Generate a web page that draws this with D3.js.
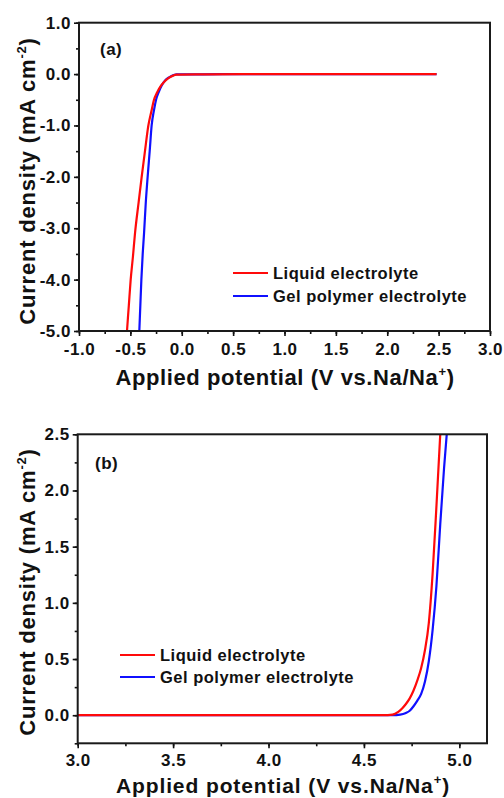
<!DOCTYPE html>
<html>
<head>
<meta charset="utf-8">
<script src="https://cdn.jsdelivr.net/npm/d3@7"></script>
<style>
html,body{margin:0;padding:0;background:#fff;}
svg{display:block;}
text{font-family:"Liberation Sans",Arial,sans-serif;font-weight:bold;fill:#111;}
</style>
</head>
<body>
<svg id="chart" width="504" height="798"></svg>
<script>
// ---- shared legend ----
const seriesNames = ["Liquid electrolyte", "Gel polymer electrolyte"];
const seriesColors = ["#ff0a0a", "#1010ff"];

// ---- Panel (a): cathodic scan ----
const aLiquidX = [-0.533, -0.515, -0.497, -0.475, -0.455, -0.42, -0.39, -0.358, -0.325, -0.295, -0.27, -0.24, -0.21, -0.17, -0.13, -0.09, -0.05, 0.2, 0.6, 1.0, 1.5, 2.0, 2.48];
const aLiquidY = [-5.0, -4.5, -4.0, -3.55, -3.1, -2.5, -2.0, -1.5, -1.0, -0.72, -0.5, -0.36, -0.25, -0.15, -0.08, -0.035, -0.01, -0.005, 0, 0, 0, 0, 0];
const aGelX = [-0.413, -0.403, -0.393, -0.38, -0.367, -0.35, -0.332, -0.312, -0.293, -0.27, -0.25, -0.22, -0.195, -0.16, -0.12, -0.08, -0.05, 0.2, 0.6, 1.0, 1.5, 2.0, 2.48];
const aGelY = [-5.0, -4.5, -4.0, -3.5, -3.1, -2.5, -2.0, -1.5, -1.0, -0.7, -0.5, -0.33, -0.22, -0.12, -0.06, -0.02, -0.005, -0.005, 0, 0, 0, 0, 0];

const aXTicks = [-1.0, -0.5, 0.0, 0.5, 1.0, 1.5, 2.0, 2.5, 3.0];
const aYTicks = [1.0, 0.0, -1.0, -2.0, -3.0, -4.0, -5.0];

// ---- Panel (b): anodic scan ----
const bLiquidX = [3.0, 3.5, 4.0, 4.5, 4.60, 4.65, 4.68, 4.70, 4.72, 4.74, 4.76, 4.78, 4.80, 4.82, 4.84, 4.86, 4.88, 4.90];
const bLiquidY = [0, 0, 0, 0, 0.0, 0.005, 0.03, 0.06, 0.10, 0.15, 0.22, 0.31, 0.42, 0.58, 0.82, 1.26, 1.86, 2.5];
const bGelX = [3.0, 3.5, 4.0, 4.5, 4.65, 4.69, 4.72, 4.74, 4.76, 4.78, 4.80, 4.82, 4.84, 4.86, 4.88, 4.90, 4.92, 4.934];
const bGelY = [0, 0, 0, 0, 0.0, 0.005, 0.02, 0.04, 0.08, 0.13, 0.19, 0.30, 0.48, 0.76, 1.15, 1.7, 2.2, 2.5];

const bXTicks = [3.0, 3.5, 4.0, 4.5, 5.0];
const bYTicks = [0.0, 0.5, 1.0, 1.5, 2.0, 2.5];

const svg = d3.select("#chart");
const fmt1 = d3.format(".1f");
const fmt = d => fmt1(d).replace("\u2212", "-");

function styleText(sel, size, spacing) {
  sel.attr("font-size", size)
    .attr("font-family", "Liberation Sans, Arial, sans-serif")
    .attr("font-weight", "bold").attr("fill", "#111")
    .attr("letter-spacing", spacing);
}

function panel(cfg) {
  const x = d3.scaleLinear().domain(cfg.xDomain).range([cfg.left, cfg.right]);
  const y = d3.scaleLinear().domain(cfg.yDomain).range([cfg.bottom, cfg.top]);
  const g = svg.append("g");
  const clipId = "clip" + cfg.id;
  svg.append("defs").append("clipPath").attr("id", clipId)
    .append("rect").attr("x", cfg.left).attr("y", cfg.top)
    .attr("width", cfg.right - cfg.left).attr("height", cfg.bottom - cfg.top);

  // minor ticks
  const xAxisMinor = d3.axisBottom(x).tickValues(d3.range(cfg.xDomain[0], cfg.xDomain[1] + 1e-9, 0.25))
    .tickSize(3).tickFormat("");
  const yAxisMinor = d3.axisLeft(y).tickValues(d3.range(cfg.yMinorStart, cfg.yDomain[1] + 1e-9, cfg.yMinorStep))
    .tickSize(3).tickFormat("");
  g.append("g").attr("transform", `translate(0,${cfg.bottom})`).call(xAxisMinor)
    .call(s => s.select(".domain").remove())
    .selectAll("line").attr("stroke", "#111").attr("stroke-width", 1.6);
  g.append("g").attr("transform", `translate(${cfg.left},0)`).call(yAxisMinor)
    .call(s => s.select(".domain").remove())
    .selectAll("line").attr("stroke", "#111").attr("stroke-width", 1.6);

  // major ticks
  const xAxis = d3.axisBottom(x).tickValues(cfg.xTicks).tickSize(5).tickPadding(cfg.xPad).tickFormat(fmt);
  const yAxis = d3.axisLeft(y).tickValues(cfg.yTicks).tickSize(5).tickPadding(3).tickFormat(fmt);
  const gx = g.append("g").attr("transform", `translate(0,${cfg.bottom})`).call(xAxis);
  gx.select(".domain").remove();
  gx.selectAll("line").attr("stroke", "#111").attr("stroke-width", 1.6);
  styleText(gx.selectAll("text"), 17, 0.5);
  const gy = g.append("g").attr("transform", `translate(${cfg.left},0)`).call(yAxis);
  gy.select(".domain").remove();
  gy.selectAll("line").attr("stroke", "#111").attr("stroke-width", 1.6);
  styleText(gy.selectAll("text"), 17, 0.5);

  // curves (gel first, liquid on top)
  const line = d3.line().x(d => x(d[0])).y(d => y(d[1])).curve(d3.curveMonotoneX);
  const lg = g.append("g").attr("clip-path", `url(#${clipId})`);
  [1, 0].forEach(i => {
    const s = cfg.series[i];
    lg.append("path").datum(d3.zip(s.xs, s.ys))
      .attr("fill", "none").attr("stroke", seriesColors[i]).attr("stroke-width", 2.2)
      .attr("d", line);
  });

  // frame
  g.append("rect").attr("x", cfg.left).attr("y", cfg.top)
    .attr("width", cfg.right - cfg.left).attr("height", cfg.bottom - cfg.top)
    .attr("fill", "none").attr("stroke", "#1a1a1a").attr("stroke-width", 2);

  // panel label
  g.append("text").attr("x", cfg.labelX).attr("y", cfg.labelY)
    .attr("font-size", 17).attr("letter-spacing", 0.5).text(cfg.label);

  // legend
  seriesNames.forEach((n, i) => {
    const ly = cfg.legY + i * cfg.legGap;
    g.append("line").attr("x1", cfg.legX).attr("x2", cfg.legX + 35).attr("y1", ly).attr("y2", ly)
      .attr("stroke", seriesColors[i]).attr("stroke-width", 2.2);
    g.append("text").attr("x", cfg.legX + 40).attr("y", ly + 6)
      .attr("font-size", 16.5).attr("letter-spacing", 0.5).text(n);
  });

  // axis titles
  const xt = g.append("text").attr("x", cfg.xTitleX).attr("y", cfg.xTitleY).attr("text-anchor", "middle")
    .attr("font-size", cfg.xTitleSize).attr("letter-spacing", cfg.xTitleSpacing);
  xt.append("tspan").text("Applied potential (V vs.Na/Na");
  xt.append("tspan").attr("dy", -9).attr("font-size", 13).text("+");
  xt.append("tspan").attr("dy", 9).text(")");

  const yt = g.append("text").attr("transform", `translate(${cfg.yTitleX},${cfg.yTitleY}) rotate(-90)`)
    .attr("text-anchor", "middle").attr("font-size", 22).attr("letter-spacing", 0.8);
  yt.append("tspan").text("Current density (mA cm");
  yt.append("tspan").attr("dy", -9).attr("font-size", 13).text("-2");
  yt.append("tspan").attr("dy", 9).text(")");
}

panel({
  id: "a", left: 79, right: 490, top: 22.7, bottom: 331,
  xDomain: [-1, 3], yDomain: [-5, 1], yMinorStart: -5, yMinorStep: 0.5,
  xTicks: aXTicks, yTicks: aYTicks, xPad: 7,
  series: [{xs: aLiquidX, ys: aLiquidY}, {xs: aGelX, ys: aGelY}],
  label: "(a)", labelX: 100, labelY: 55,
  legX: 233, legY: 273, legGap: 23,
  xTitleX: 285, xTitleY: 385, xTitleSize: 22, xTitleSpacing: 0.6,
  yTitleX: 35, yTitleY: 181
});

panel({
  id: "b", left: 77.7, right: 487, top: 434.3, bottom: 743.3,
  xDomain: [3, 5.145], yDomain: [-0.25, 2.5], yMinorStart: -0.25, yMinorStep: 0.25,
  xTicks: bXTicks, yTicks: bYTicks, xPad: 6,
  series: [{xs: bLiquidX, ys: bLiquidY}, {xs: bGelX, ys: bGelY}],
  label: "(b)", labelX: 95, labelY: 469,
  legX: 120, legY: 655, legGap: 22,
  xTitleX: 283, xTitleY: 793, xTitleSize: 21, xTitleSpacing: 0.9,
  yTitleX: 35, yTitleY: 592
});
</script>
</body>
</html>
